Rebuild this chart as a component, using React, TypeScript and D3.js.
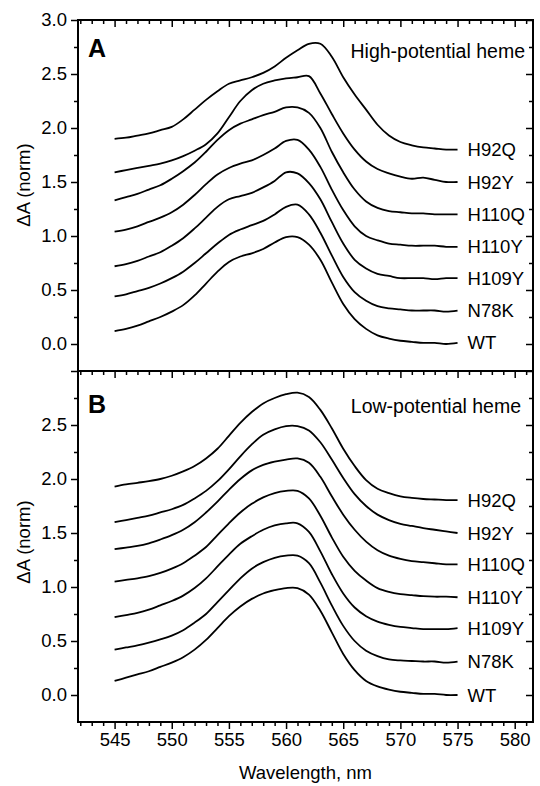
import { useEffect, useRef } from 'react';
import * as d3 from 'd3';

const WIDTH = 540;
const HEIGHT = 786;
const FONT = '"Liberation Sans", Arial, Helvetica, sans-serif';

// wavelength grid, nm
const WAVELENGTH = [
  545, 546, 547, 548, 549, 550, 551, 552, 553, 554, 555, 556, 557, 558, 559, 560,
  561, 562, 563, 564, 565, 566, 567, 568, 569, 570, 571, 572, 573, 574, 575,
];

const MUTANTS = ['WT', 'N78K', 'H109Y', 'H110Y', 'H110Q', 'H92Y', 'H92Q'];
const OFFSETS = [0, 0.3, 0.6, 0.9, 1.2, 1.5, 1.8];

// A: high-potential heme, normalized spectra
const HP_WT = [0.12, 0.14, 0.17, 0.21, 0.25, 0.30, 0.36, 0.45, 0.56, 0.67, 0.76, 0.81, 0.84, 0.88, 0.94, 0.99, 0.99, 0.92, 0.78, 0.57, 0.37, 0.23, 0.14, 0.08, 0.05, 0.03, 0.02, 0.01, 0.01, 0.0, 0.01];
const HP_N78K = [0.14, 0.16, 0.19, 0.22, 0.26, 0.31, 0.37, 0.45, 0.54, 0.63, 0.71, 0.76, 0.80, 0.84, 0.90, 0.97, 0.99, 0.90, 0.73, 0.52, 0.32, 0.18, 0.10, 0.05, 0.03, 0.02, 0.01, 0.01, 0.01, 0.0, 0.01];
const HP_H109Y = [0.12, 0.14, 0.17, 0.21, 0.25, 0.31, 0.38, 0.47, 0.57, 0.67, 0.74, 0.77, 0.80, 0.85, 0.91, 0.99, 0.98, 0.89, 0.74, 0.53, 0.33, 0.18, 0.10, 0.05, 0.03, 0.01, 0.01, 0.01, 0.0, 0.01, 0.01];
const HP_H110Y = [0.14, 0.16, 0.19, 0.23, 0.27, 0.32, 0.39, 0.48, 0.58, 0.67, 0.73, 0.77, 0.80, 0.85, 0.91, 0.98, 0.99, 0.90, 0.74, 0.53, 0.34, 0.19, 0.10, 0.06, 0.03, 0.02, 0.01, 0.01, 0.01, 0.0, 0.0];
const HP_H110Q = [0.13, 0.16, 0.19, 0.23, 0.27, 0.33, 0.40, 0.48, 0.58, 0.69, 0.78, 0.84, 0.88, 0.92, 0.95, 0.99, 0.99, 0.94, 0.80, 0.58, 0.39, 0.23, 0.12, 0.06, 0.03, 0.02, 0.01, 0.01, 0.0, 0.0, 0.0];
const HP_H92Y = [0.09, 0.11, 0.13, 0.15, 0.17, 0.20, 0.24, 0.29, 0.35, 0.45, 0.60, 0.75, 0.85, 0.91, 0.94, 0.96, 0.97, 0.98, 0.82, 0.63, 0.45, 0.30, 0.19, 0.12, 0.08, 0.05, 0.03, 0.04, 0.02, 0.0, 0.0];
const HP_H92Q = [0.10, 0.11, 0.13, 0.15, 0.18, 0.21, 0.28, 0.37, 0.46, 0.54, 0.61, 0.64, 0.67, 0.71, 0.77, 0.85, 0.92, 0.98, 0.98, 0.86, 0.67, 0.51, 0.37, 0.23, 0.13, 0.07, 0.04, 0.02, 0.01, 0.0, 0.0];

// B: low-potential heme, normalized spectra
const LP_WT = [0.13, 0.16, 0.19, 0.22, 0.26, 0.30, 0.35, 0.42, 0.51, 0.62, 0.73, 0.82, 0.89, 0.94, 0.97, 0.99, 0.99, 0.93, 0.78, 0.58, 0.38, 0.23, 0.13, 0.08, 0.05, 0.03, 0.02, 0.01, 0.01, 0.0, 0.0];
const LP_N78K = [0.12, 0.14, 0.16, 0.185, 0.215, 0.25, 0.30, 0.37, 0.45, 0.56, 0.67, 0.78, 0.87, 0.93, 0.97, 0.99, 0.99, 0.92, 0.74, 0.53, 0.34, 0.20, 0.11, 0.06, 0.03, 0.02, 0.015, 0.01, 0.01, 0.0, 0.01];
const LP_H109Y = [0.12, 0.14, 0.16, 0.19, 0.23, 0.27, 0.32, 0.39, 0.48, 0.59, 0.70, 0.80, 0.87, 0.93, 0.97, 0.99, 0.99, 0.91, 0.73, 0.52, 0.34, 0.21, 0.13, 0.08, 0.05, 0.03, 0.02, 0.01, 0.01, 0.01, 0.02];
const LP_H110Y = [0.15, 0.165, 0.18, 0.20, 0.23, 0.27, 0.32, 0.39, 0.47, 0.58, 0.69, 0.79, 0.87, 0.93, 0.97, 0.99, 0.99, 0.92, 0.76, 0.56, 0.38, 0.25, 0.16, 0.09, 0.055, 0.035, 0.025, 0.015, 0.01, 0.01, 0.005];
const LP_H110Q = [0.15, 0.165, 0.18, 0.205, 0.24, 0.28, 0.33, 0.40, 0.49, 0.59, 0.70, 0.80, 0.88, 0.93, 0.96, 0.98, 0.99, 0.95, 0.82, 0.64, 0.47, 0.33, 0.22, 0.14, 0.09, 0.06, 0.04, 0.03, 0.02, 0.01, 0.01];
const LP_H92Y = [0.10, 0.12, 0.14, 0.16, 0.19, 0.22, 0.26, 0.32, 0.39, 0.48, 0.59, 0.71, 0.82, 0.91, 0.96, 0.99, 0.99, 0.95, 0.84, 0.68, 0.51, 0.36, 0.25, 0.17, 0.12, 0.085, 0.065, 0.045, 0.03, 0.015, 0.0];
const LP_H92Q = [0.13, 0.15, 0.165, 0.18, 0.20, 0.23, 0.27, 0.32, 0.39, 0.48, 0.60, 0.72, 0.82, 0.90, 0.95, 0.985, 1.0, 0.96, 0.84, 0.67, 0.48, 0.32, 0.19, 0.11, 0.07, 0.04, 0.025, 0.015, 0.01, 0.005, 0.005];

const HP_SPECTRA = [HP_WT, HP_N78K, HP_H109Y, HP_H110Y, HP_H110Q, HP_H92Y, HP_H92Q];
const LP_SPECTRA = [LP_WT, LP_N78K, LP_H109Y, LP_H110Y, LP_H110Q, LP_H92Y, LP_H92Q];

const Y_MAJOR = [0, 0.5, 1, 1.5, 2, 2.5, 3];
const Y_MINOR = [0.25, 0.75, 1.25, 1.75, 2.25, 2.75];
const X_MAJOR = [545, 550, 555, 560, 565, 570, 575, 580];
const X_MINOR = d3.range(542, 582).filter((d) => d % 5 !== 0);

const LEFT = 78;
const RIGHT = 533;

const PANELS = [
  { key: 'A', title: 'High-potential heme', spectra: HP_SPECTRA, top: 20, bottom: 371, titleX: 525, titleY: 58, letterY: 57, yLabelY: 185, firstPanel: true },
  { key: 'B', title: 'Low-potential heme', spectra: LP_SPECTRA, top: 371, bottom: 722, titleX: 521, titleY: 413, letterY: 413, yLabelY: 542, firstPanel: false },
];

const x = d3.scaleLinear().domain([541.8, 581.6]).range([LEFT, RIGHT]);

const styleAxis = (g, labels) => {
  g.select('.domain').remove();
  g.selectAll('line').attr('stroke', '#000').attr('stroke-width', 1.5);
  g.attr('font-family', FONT).attr('font-size', 18.5);
  if (labels) g.selectAll('text').attr('fill', '#000');
};

const App = () => {
  const svgRef = useRef(null);

  useEffect(() => {
    const svg = d3.select(svgRef.current);
    svg.selectAll('.axes').remove();
    const axes = svg.append('g').attr('class', 'axes');

    PANELS.forEach((p) => {
      const y = d3.scaleLinear().domain([-0.25, 3]).range([p.bottom, p.top]);
      const fmt = (d) => (!p.firstPanel && d === 3 ? '' : d3.format('.1f')(d));

      // left, outward
      axes.append('g').attr('transform', `translate(${LEFT},0)`)
        .call(d3.axisLeft(y).tickValues(Y_MAJOR).tickSize(7).tickPadding(4).tickFormat(fmt))
        .call((g) => styleAxis(g, true));
      axes.append('g').attr('transform', `translate(${LEFT},0)`)
        .call(d3.axisLeft(y).tickValues(Y_MINOR).tickSize(4).tickFormat(() => ''))
        .call((g) => styleAxis(g, false));

      // right, inward
      axes.append('g').attr('transform', `translate(${RIGHT},0)`)
        .call(d3.axisRight(y).tickValues(Y_MAJOR).tickSize(-7).tickFormat(() => ''))
        .call((g) => styleAxis(g, false));
      axes.append('g').attr('transform', `translate(${RIGHT},0)`)
        .call(d3.axisRight(y).tickValues(Y_MINOR).tickSize(-4).tickFormat(() => ''))
        .call((g) => styleAxis(g, false));

      // top, inward
      axes.append('g').attr('transform', `translate(0,${p.top})`)
        .call(d3.axisTop(x).tickValues(X_MAJOR).tickSize(-7).tickFormat(() => ''))
        .call((g) => styleAxis(g, false));
      axes.append('g').attr('transform', `translate(0,${p.top})`)
        .call(d3.axisTop(x).tickValues(X_MINOR).tickSize(-4).tickFormat(() => ''))
        .call((g) => styleAxis(g, false));

      if (!p.firstPanel) {
        axes.append('g').attr('transform', `translate(0,${p.bottom})`)
          .call(d3.axisBottom(x).tickValues(X_MAJOR).tickSize(7).tickPadding(4).tickFormat(d3.format('d')))
          .call((g) => styleAxis(g, true));
        axes.append('g').attr('transform', `translate(0,${p.bottom})`)
          .call(d3.axisBottom(x).tickValues(X_MINOR).tickSize(4).tickFormat(() => ''))
          .call((g) => styleAxis(g, false));
      }
    });
  }, []);

  return (
    <svg
      ref={svgRef}
      width={WIDTH}
      height={HEIGHT}
      style={{ position: 'absolute', left: 0, top: 0, background: '#fff' }}
      fontFamily={FONT}
    >
      <rect width={WIDTH} height={HEIGHT} fill="#fff" />
      {PANELS.map((p) => {
        const y = d3.scaleLinear().domain([-0.25, 3]).range([p.bottom, p.top]);
        return (
          <g key={p.key}>
            {p.spectra.map((values, i) => {
              const line = d3
                .line<number>()
                .x((_, j) => x(WAVELENGTH[j]))
                .y((v) => y(v + OFFSETS[i]))
                .curve(d3.curveCatmullRom.alpha(0.5));
              const last = values[values.length - 1];
              return (
                <g key={MUTANTS[i]}>
                  <path d={line(values) ?? ''} fill="none" stroke="#000" strokeWidth={1.8} strokeLinejoin="round" />
                  <text
                    x={x(WAVELENGTH[WAVELENGTH.length - 1]) + 10}
                    y={y(last + OFFSETS[i])}
                    dominantBaseline="central"
                    fontSize={18.5}
                  >
                    {MUTANTS[i]}
                  </text>
                </g>
              );
            })}
            <rect
              x={LEFT}
              y={p.top}
              width={RIGHT - LEFT}
              height={p.bottom - p.top}
              fill="none"
              stroke="#000"
              strokeWidth={2}
            />
            <text x={88} y={p.letterY} fontSize={25} fontWeight="bold">{p.key}</text>
            <text x={p.titleX} y={p.titleY} fontSize={19.5} textAnchor="end">{p.title}</text>
            <text
              transform={`translate(30,${p.yLabelY}) rotate(-90)`}
              textAnchor="middle"
              fontSize={18.5}
            >
              ΔA (norm)
            </text>
          </g>
        );
      })}
      <text x={(LEFT + RIGHT) / 2} y={779} textAnchor="middle" fontSize={18.5}>
        Wavelength, nm
      </text>
    </svg>
  );
};

export default App;
